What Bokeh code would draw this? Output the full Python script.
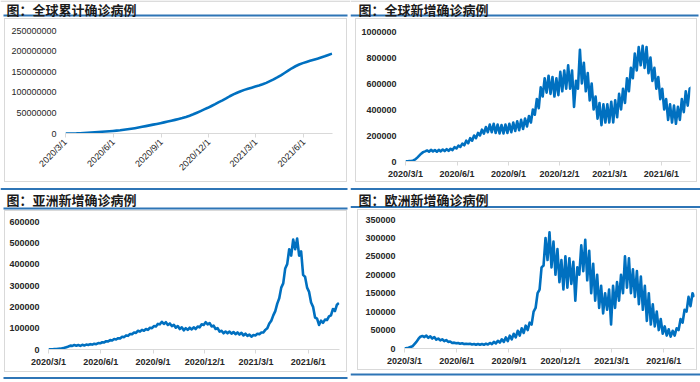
import numpy as np
import pandas as pd
from bokeh.plotting import figure
from bokeh.layouts import row, column
from bokeh.models import Range1d, FixedTicker, BasicTickFormatter
from bokeh.core.properties import value
from bokeh.embed import file_html
from bokeh.resources import INLINE

START = "2020-03-01"
x_tick_dates = ["2020-03-01", "2020-06-01", "2020-09-01", "2020-12-01", "2021-03-01", "2021-06-01"]
x_tick_labels = ["2020/3/1", "2020/6/1", "2020/9/1", "2020/12/1", "2021/3/1", "2021/6/1"]

titles = ["图：全球累计确诊病例", "图：全球新增确诊病例", "图：亚洲新增确诊病例", "图：欧洲新增确诊病例"]

# weekly cumulative global cases (millions), from 2020-03-01
global_cum_m = [
    0.09, 0.11, 0.17, 0.34, 0.72, 1.27, 1.85, 2.40, 2.97, 3.50,
    4.10, 4.75, 5.40, 6.18, 7.00, 7.90, 9.00, 10.2, 11.5, 12.9,
    14.5, 16.2, 17.9, 19.7, 21.5, 23.3, 25.1, 27.0, 29.0, 31.0,
    33.1, 35.3, 37.6, 40.2, 43.2, 46.6, 50.5, 54.4, 58.4, 62.4,
    66.8, 71.4, 76.3, 80.5, 85.1, 90.4, 95.0, 99.0, 102.7, 105.9,
    108.7, 111.2, 113.9, 116.6, 119.6, 122.9, 127.0, 131.3, 136.1, 141.2,
    146.9, 152.6, 158.3, 163.2, 167.4, 170.8, 173.7, 176.5, 179.1, 181.7,
    184.4, 187.3, 190.5, 193.8,
]

# half-weekly new cases (thousands), from 2020-03-01, every 3.5 days
global_new_k = [
    2, 2, 3, 4, 8, 16, 30, 45, 60, 72,
    78, 85, 75, 90, 78, 88, 75, 90, 78, 92,
    80, 95, 82, 98, 88, 110, 100, 122, 112, 138,
    125, 160, 140, 180, 160, 200, 180, 220, 200, 245,
    215, 265, 225, 285, 225, 290, 220, 285, 215, 280,
    215, 285, 220, 290, 225, 300, 235, 310, 240, 320,
    250, 330, 270, 350, 300, 400, 360, 480, 410, 570,
    500, 640, 530, 660, 520, 650, 500, 640, 510, 690,
    540, 700, 560, 740, 560, 700, 420, 620, 560, 860,
    600, 760, 540, 680, 470, 600, 400, 500, 330, 450,
    280, 440, 300, 440, 300, 460, 300, 470, 340, 520,
    400, 560, 450, 640, 540, 720, 640, 830, 700, 880,
    740, 890, 720, 880, 680, 800, 620, 720, 560, 650,
    480, 560, 400, 480, 320, 440, 300, 430, 290, 420,
    320, 480, 380, 540, 430, 560, 570,
]

asia_new_k = [
    0.5, 1, 1, 2, 2, 3, 4, 6, 8, 11,
    14, 18, 17, 21, 18, 21, 17, 22, 19, 23,
    21, 25, 23, 27, 25, 30, 29, 34, 33, 39,
    38, 44, 42, 49, 47, 53, 52, 60, 58, 66,
    64, 73, 72, 80, 78, 88, 84, 92, 88, 96,
    92, 102, 100, 110, 108, 120, 118, 130, 120, 128,
    115, 122, 110, 116, 102, 110, 96, 104, 90, 100,
    92, 102, 94, 104, 96, 108, 104, 118, 115, 128,
    118, 124, 108, 112, 96, 100, 84, 88, 76, 84,
    76, 84, 74, 82, 72, 80, 70, 78, 66, 74,
    64, 70, 60, 68, 66, 74, 72, 80, 80, 92,
    100, 122, 135, 160, 180, 215, 240, 290, 310, 380,
    400, 470, 440, 515, 470, 520, 440, 460, 350, 340,
    290, 270, 220, 200, 150, 145, 115, 135, 125, 140,
    138, 155, 160, 190, 180, 210, 218,
]

europe_new_k = [
    0.5, 1, 2, 4, 6, 12, 18, 26, 32, 34,
    31, 35, 29, 33, 27, 31, 24, 27, 22, 25,
    20, 23, 18, 19, 15, 16, 14, 15, 13, 14,
    12, 13, 12, 13, 11, 12, 10, 12, 10, 12,
    10, 13, 11, 15, 12, 18, 14, 21, 16, 25,
    18, 30, 20, 35, 25, 40, 30, 48, 35, 55,
    42, 62, 50, 70, 65, 100, 110, 150, 160, 220,
    225, 300, 240, 315, 220, 290, 200, 270, 180, 240,
    160, 250, 165, 245, 175, 235, 130, 220, 200, 280,
    210, 295, 185, 265, 150, 230, 130, 200, 110, 170,
    95, 150, 105, 160, 65, 170, 110, 180, 130, 200,
    150, 250, 165, 245, 150, 215, 140, 210, 120, 195,
    105, 170, 75, 150, 65, 120, 60, 100, 50, 80,
    40, 60, 35, 52, 32, 48, 35, 55, 50, 80,
    70, 105, 100, 140, 115, 150, 140,
]

cum_y_ticks = [0, 50000000, 100000000, 150000000, 200000000, 250000000]
global_y_ticks = [0, 200000, 400000, 600000, 800000, 1000000]
asia_y_ticks = [0, 100000, 200000, 300000, 400000, 500000, 600000]
europe_y_ticks = [0, 50000, 100000, 150000, 200000, 250000, 300000, 350000]

BLUE = "#0070C0"
RULE = "#2E75B6"
GRAY = "#D9D9D9"
start_ts = pd.Timestamp(START)
tick_x = [(pd.Timestamp(d) - start_ts).days for d in x_tick_dates]


def no_align(p):
    try:
        p.frame_align = False
    except Exception:
        pass


def strip(h, title=None, title_xy=None, rules=(), w=350):
    """Header / footer strip drawn in pixel coordinates (y downward)."""
    p = figure(width=w, height=h, output_backend="svg", toolbar_location=None,
               x_range=Range1d(0, w), y_range=Range1d(h, 0),
               x_axis_location=None, y_axis_location=None,
               min_border=0, min_border_left=0, min_border_right=0,
               min_border_top=0, min_border_bottom=0,
               outline_line_color=None, background_fill_color="white",
               border_fill_color="white")
    p.xgrid.visible = False
    p.ygrid.visible = False
    no_align(p)
    for r in rules:
        color = r[4] if len(r) > 4 else RULE
        p.quad(left=[r[0]], right=[r[1]], top=[r[2]], bottom=[r[3]],
               fill_color=color, line_color=None)
    if title is not None:
        p.text(x=[title_xy[0]], y=[title_xy[1]], text=[title],
               text_font=value("Noto Sans CJK SC"), text_font_style="bold",
               text_font_size="13px", text_color="#1A1A1A",
               text_baseline="middle", text_align="left")
    return p


def chart(vals, unit, freq, y_ticks, x_end, geom, left_margin,
          rotate=False, bold=True):
    w, h, bl, br, bt, bb = geom
    dates = pd.date_range(START, periods=len(vals), freq=freq)
    x = ((dates - start_ts) / pd.Timedelta(days=1)).to_numpy()
    y = np.array(vals, dtype=float) * unit
    p = figure(width=w, height=h, output_backend="svg", toolbar_location=None,
               x_range=Range1d(0, x_end), y_range=Range1d(y_ticks[0], y_ticks[-1]),
               min_border_left=bl, min_border_right=br, min_border_top=bt,
               min_border_bottom=bb, outline_line_color=None,
               background_fill_color="white", border_fill_color="white",
               margin=(0, 0, 0, left_margin),
               styles={"border": "1px solid " + GRAY, "box-sizing": "content-box"})
    no_align(p)
    p.xgrid.visible = False
    p.ygrid.visible = False
    p.line(x, y, line_color=BLUE, line_width=2.6, line_join="round")

    fs = "bold" if bold else "normal"
    xa = p.xaxis[0]
    xa.ticker = FixedTicker(ticks=tick_x)
    xa.major_label_overrides = {t: lab for t, lab in zip(tick_x, x_tick_labels)}
    xa.axis_line_color = GRAY
    xa.major_tick_line_color = GRAY
    xa.major_tick_out = 4
    xa.major_tick_in = 0
    xa.minor_tick_line_color = None
    xa.major_label_text_font = "Liberation Sans"
    xa.major_label_text_font_size = "9px"
    xa.major_label_text_font_style = fs
    xa.major_label_text_color = "#262626"
    xa.major_label_standoff = 3
    if rotate:
        xa.major_label_orientation = np.pi / 4

    ya = p.yaxis[0]
    ya.ticker = FixedTicker(ticks=y_ticks)
    ya.formatter = BasicTickFormatter(use_scientific=False)
    ya.axis_line_color = None
    ya.major_tick_line_color = None
    ya.minor_tick_line_color = None
    ya.major_tick_out = 0
    ya.major_label_standoff = 9
    ya.major_label_text_font = "Liberation Sans"
    ya.major_label_text_font_size = "9px"
    ya.major_label_text_font_style = fs
    ya.major_label_text_color = "#262626"
    return p


# top-left
h_tl = strip(18, titles[0], (6, 8.5), [(0, 350, 0, 1.2, "#D0D0D0"), (3, 347, 14, 16)])
c_tl = chart(global_cum_m, 1e6, "7D", cum_y_ticks, 512, (341, 162, 60, 16, 11, 50), 4,
             rotate=True, bold=False)
# top-right
h_tr = strip(18, titles[1], (8, 8.5), [(0, 350, 0, 1.2, "#D0D0D0"), (0, 348, 14, 16)])
c_tr = chart(global_new_k, 1e3, "84h", global_y_ticks, 509, (340, 162, 49, 8, 12, 22), 5)
# bottom-left
h_bl = strip(28, titles[2], (6, 17), [(0, 347, 5.5, 7.5), (3, 347, 25, 27)])
c_bl = chart(asia_new_k, 1e3, "84h", asia_y_ticks, 512, (341, 160, 43, 9, 10, 24), 4)
f_bl = strip(10, rules=[(3, 347, 2.5, 4.5)])
# bottom-right
h_br = strip(27, titles[3], (8, 17), [(0, 350, 5.5, 7.5), (0, 350, 23.5, 25.5)])
c_br = chart(europe_new_k, 1e3, "84h", europe_y_ticks, 511, (338, 159, 46, 4, 9, 23), 7)
f_br = strip(12, rules=[(0, 350, 3, 5)])

top = row(column(h_tl, c_tl, spacing=0), column(h_tr, c_tr, spacing=0), spacing=0)
bottom = row(column(h_bl, c_bl, f_bl, spacing=0), column(h_br, c_br, f_br, spacing=0), spacing=0)
root = column(top, bottom, spacing=0)

open("out.html", "w").write(file_html(root, INLINE))
